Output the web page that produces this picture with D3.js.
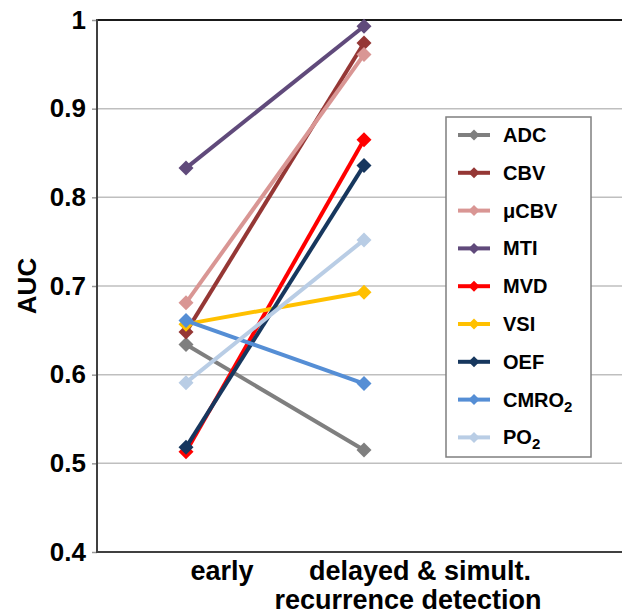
<!DOCTYPE html>
<html>
<head>
<meta charset="utf-8">
<script src="https://cdn.jsdelivr.net/npm/d3@7"></script>
<style>
  html, body { margin: 0; padding: 0; background: #fff; }
  svg { display: block; font-family: "Liberation Sans", Arial, sans-serif; }
</style>
</head>
<body>
<svg id="chart" width="622" height="616"></svg>
<script>
// ---- data ----
const categories = ["early", "delayed & simult.|recurrence detection", "_pad"];
const seriesNames = ["ADC", "CBV", "μCBV", "MTI", "MVD", "VSI", "OEF", "CMRO2", "PO2"];
const earlyValues   = [0.634, 0.648, 0.681, 0.833, 0.513, 0.657, 0.518, 0.661, 0.591];
const delayedValues = [0.515, 0.974, 0.961, 0.993, 0.865, 0.693, 0.836, 0.590, 0.752];
const seriesColors  = ["#7f7f7f", "#953735", "#d99694", "#604a7b", "#ff0000", "#ffc000", "#17375e", "#558ed5", "#b9cde5"];
const yTicks = [0.4, 0.5, 0.6, 0.7, 0.8, 0.9, 1];

// ---- layout ----
const W = 622, H = 616;
const x0 = 97, bandW = 178;
const yTop = 20, yBottom = 552;

const svg = d3.select("#chart");

const x = d3.scaleBand().domain(categories).range([x0, x0 + bandW * categories.length]);
const y = d3.scaleLinear().domain([0.4, 1]).range([yBottom, yTop]);

// gridlines
svg.append("g").selectAll("line").data(yTicks.filter(t => t > 0.4 && t < 1)).join("line")
  .attr("x1", x0).attr("x2", W).attr("y1", d => y(d)).attr("y2", d => y(d))
  .attr("stroke", "#bfbfbf").attr("stroke-width", 1.5);

// top border line
svg.append("line").attr("x1", x0 - 1).attr("x2", W).attr("y1", y(1)).attr("y2", y(1))
  .attr("stroke", "#1a1a1a").attr("stroke-width", 2);

// y axis
const yAxis = d3.axisLeft(y).tickValues(yTicks).tickSize(5).tickPadding(6)
  .tickFormat(d => d === 1 ? "1" : d3.format(".1f")(d));
const gy = svg.append("g").attr("transform", `translate(${x0},0)`).call(yAxis);
gy.select(".domain").remove();
gy.selectAll(".tick line").attr("stroke", "#999").attr("stroke-width", 1.5);
gy.selectAll(".tick text").attr("font-size", 26).attr("font-weight", "bold").attr("fill", "#000")
  .attr("font-family", "Liberation Sans, Arial, sans-serif");

svg.append("line").attr("x1", x0).attr("x2", x0).attr("y1", yTop - 1).attr("y2", yBottom + 1)
  .attr("stroke", "#404040").attr("stroke-width", 2);
svg.append("line").attr("x1", x0 - 1).attr("x2", W).attr("y1", yBottom).attr("y2", yBottom)
  .attr("stroke", "#404040").attr("stroke-width", 2);

// axis title
svg.append("text").attr("transform", `translate(36,${(yTop + yBottom) / 2}) rotate(-90)`)
  .attr("text-anchor", "middle").attr("font-size", 26).attr("font-weight", "bold").text("AUC");

// x labels
const labelShift = [36, 56];
categories.slice(0, 2).forEach((c, i) => {
  const lines = c.split("|");
  const cx = x(c) + x.bandwidth() / 2 + labelShift[i];
  const t = svg.append("text").attr("text-anchor", "middle").attr("font-size", 27).attr("font-weight", "bold");
  lines.forEach((ln, j) => {
    t.append("tspan").attr("x", cx + (j === 1 ? -12 : 0)).attr("y", 580 + j * 29).text(ln);
  });
});

// series
const cx = c => x(c) + x.bandwidth() / 2;
function diamondPath(s) {
  return `M0,${-s}L${s},0L0,${s}L${-s},0Z`;
}
const seriesData = seriesNames.map((n, i) => ({
  name: n, color: seriesColors[i],
  pts: [[cx(categories[0]), y(earlyValues[i])], [cx(categories[1]), y(delayedValues[i])]]
}));
const gs = svg.append("g").selectAll("g").data(seriesData).join("g");
gs.append("path").attr("d", d => d3.line()(d.pts)).attr("stroke", d => d.color)
  .attr("stroke-width", 4).attr("fill", "none");
gs.selectAll("path.m").data(d => d.pts.map(p => ({p, color: d.color}))).join("path")
  .attr("class", "m").attr("d", diamondPath(7.5))
  .attr("transform", d => `translate(${d.p[0]},${d.p[1]})`).attr("fill", d => d.color);

// legend
const lg = svg.append("g");
lg.append("rect").attr("x", 446).attr("y", 117).attr("width", 145).attr("height", 340)
  .attr("fill", "#fff").attr("stroke", "#7f7f7f").attr("stroke-width", 1.5);
seriesData.forEach((s, i) => {
  const yy = 135 + i * 37.8;
  lg.append("line").attr("x1", 458).attr("x2", 490).attr("y1", yy).attr("y2", yy)
    .attr("stroke", s.color).attr("stroke-width", 4);
  lg.append("path").attr("d", diamondPath(5.5)).attr("transform", `translate(474,${yy})`).attr("fill", s.color);
  const t = lg.append("text").attr("x", 503).attr("y", yy + 7).attr("font-size", 20).attr("font-weight", "bold");
  const m = s.name.match(/^(.*?)(2)$/);
  if (m) {
    t.append("tspan").text(m[1]);
    t.append("tspan").attr("font-size", 15).attr("dy", 5).text(m[2]);
  } else t.text(s.name);
});
</script>
</body>
</html>
